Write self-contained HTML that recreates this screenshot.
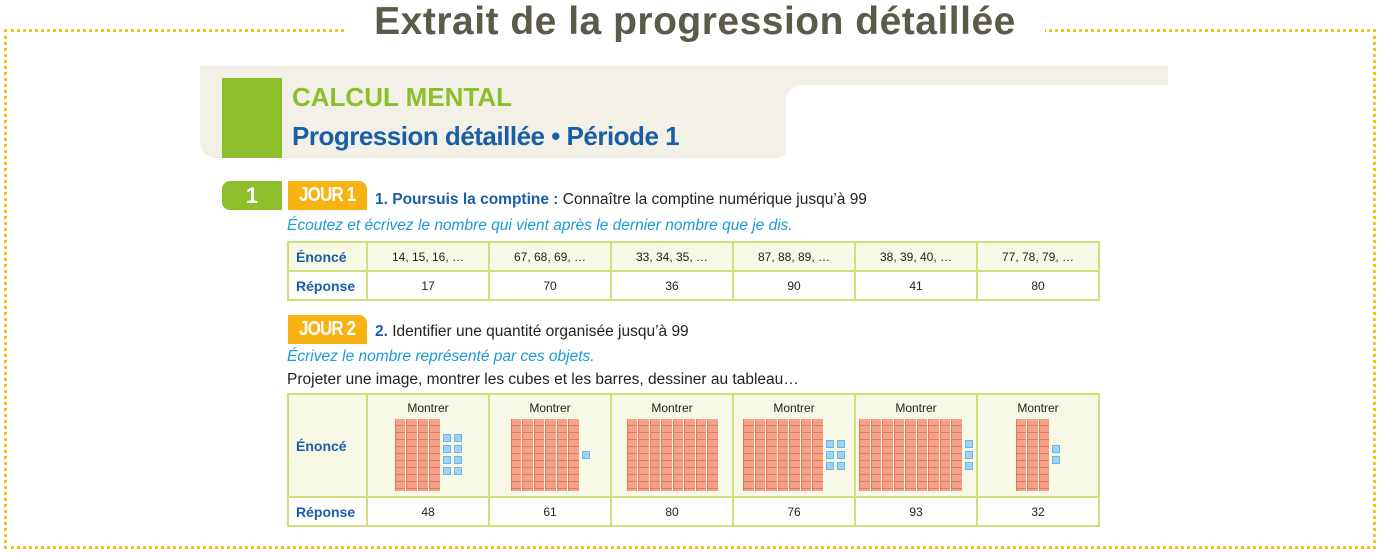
<!DOCTYPE html>
<html><head><meta charset="utf-8"><style>
*{margin:0;padding:0;box-sizing:border-box}
body{width:1380px;height:553px;background:#fff;position:relative;overflow:hidden;font-family:"Liberation Sans",sans-serif}
.frame{position:absolute;left:4px;top:29px;width:1372px;height:520px;border:3px dotted #f5c21b}
.title{position:absolute;left:345px;top:0;width:700px;height:44px;background:#fff;text-align:center;font-size:39px;font-weight:bold;color:#5b5a4b;line-height:44px;letter-spacing:0.5px}
.band{position:absolute;left:200px;top:66px;width:968px;height:19px;background:#f3f1e7}
.band2{position:absolute;left:200px;top:66px;width:600px;height:92px;background:#f3f1e7;border-radius:0 0 26px 16px}
.band3{position:absolute;left:786px;top:85px;width:382px;height:80px;background:#fff;border-radius:16px 0 0 0}
.gsq{position:absolute;left:222px;top:78px;width:60px;height:80px;background:#8dbe2c}
.h1{position:absolute;left:292px;top:82px;font-size:26px;font-weight:bold;color:#8dbe2c}
.h2{position:absolute;left:292px;top:121px;font-size:26px;font-weight:bold;color:#1a5ea6;letter-spacing:-0.5px}
.tab1{position:absolute;left:222px;top:181px;width:60px;height:29px;background:#8dbe2c;border-radius:8px 0 0 8px;color:#fff;font-weight:bold;font-size:22px;text-align:center;line-height:29px}
.jour{position:absolute;left:288px;width:79px;height:29px;background:#f6b312;border-radius:0 8px 0 0;color:#fff;font-weight:bold;font-size:20px;text-align:center;line-height:29px;letter-spacing:-1px}
.jour span{display:inline-block;transform:scaleX(0.85)}
.txt{position:absolute;font-size:15.5px;color:#222}
.txt b{color:#1a5ea6}
.it{position:absolute;font-size:15.5px;color:#1a9ad6;font-style:italic}
table{position:absolute;left:287px;border-collapse:collapse;font-size:12px;color:#222}
td{border:2px solid #cfe07b;text-align:center;width:122px}
td.h{width:79px;text-align:left;padding-left:7px;color:#1a5ea6;font-weight:bold;font-size:14px}
tr.y td{background:#f7f8e6}
.cell{display:flex;justify-content:center;align-items:center;gap:3px;height:72px;margin-top:4px}
.bars{display:flex;gap:1px}
.bar{width:10.5px;height:72px;background:repeating-linear-gradient(180deg,#f3a287 0 6px,#e5765f 6px 7px);border-left:1px solid #e5765f}
.cubes{display:grid;gap:3px}
.c{width:8px;height:8px;background:#9fd3f3;border:1px solid #6cb6e6}
</style></head><body>
<div class="frame"></div>
<div class="title">Extrait de la progression détaillée</div>
<div class="band"></div><div class="band2"></div><div class="band3"></div>
<div class="gsq"></div>
<div class="h1">CALCUL MENTAL</div>
<div class="h2">Progression détaillée • Période 1</div>
<div class="tab1">1</div>
<div class="jour" style="top:181px"><span>JOUR 1</span></div>
<div class="txt" style="left:375px;top:191px"><b>1. Poursuis la comptine :</b> Connaître la comptine numérique jusqu’à 99</div>
<div class="it" style="left:287px;top:217px">Écoutez et écrivez le nombre qui vient après le dernier nombre que je dis.</div>
<table style="top:241px">
<tr class="y" style="height:29px"><td class="h">Énoncé</td><td>14, 15, 16, …</td><td>67, 68, 69, …</td><td>33, 34, 35, …</td><td>87, 88, 89, …</td><td>38, 39, 40, …</td><td>77, 78, 79, …</td></tr>
<tr style="height:29px"><td class="h">Réponse</td><td>17</td><td>70</td><td>36</td><td>90</td><td>41</td><td>80</td></tr>
</table>
<div class="jour" style="top:315px"><span>JOUR 2</span></div>
<div class="txt" style="left:375px;top:323px"><b>2.</b> Identifier une quantité organisée jusqu’à 99</div>
<div class="it" style="left:287px;top:348px">Écrivez le nombre représenté par ces objets.</div>
<div class="txt" style="left:287px;top:371px">Projeter une image, montrer les cubes et les barres, dessiner au tableau…</div>
<table style="top:393px">
<tr class="y" style="height:103px"><td class="h">Énoncé</td>
<td>Montrer<div class="cell"><div class="bars"><div class="bar"></div><div class="bar"></div><div class="bar"></div><div class="bar"></div></div><div class="cubes" style="grid-template-columns:8px 8px"><div class="c"></div><div class="c"></div><div class="c"></div><div class="c"></div><div class="c"></div><div class="c"></div><div class="c"></div><div class="c"></div></div></div></td>
<td>Montrer<div class="cell"><div class="bars"><div class="bar"></div><div class="bar"></div><div class="bar"></div><div class="bar"></div><div class="bar"></div><div class="bar"></div></div><div class="cubes"><div class="c"></div></div></div></td>
<td>Montrer<div class="cell"><div class="bars"><div class="bar"></div><div class="bar"></div><div class="bar"></div><div class="bar"></div><div class="bar"></div><div class="bar"></div><div class="bar"></div><div class="bar"></div></div></div></td>
<td>Montrer<div class="cell"><div class="bars"><div class="bar"></div><div class="bar"></div><div class="bar"></div><div class="bar"></div><div class="bar"></div><div class="bar"></div><div class="bar"></div></div><div class="cubes" style="grid-template-columns:8px 8px"><div class="c"></div><div class="c"></div><div class="c"></div><div class="c"></div><div class="c"></div><div class="c"></div></div></div></td>
<td>Montrer<div class="cell"><div class="bars"><div class="bar"></div><div class="bar"></div><div class="bar"></div><div class="bar"></div><div class="bar"></div><div class="bar"></div><div class="bar"></div><div class="bar"></div><div class="bar"></div></div><div class="cubes"><div class="c"></div><div class="c"></div><div class="c"></div></div></div></td>
<td>Montrer<div class="cell"><div class="bars"><div class="bar"></div><div class="bar"></div><div class="bar"></div></div><div class="cubes"><div class="c"></div><div class="c"></div></div></div></td>
</tr>
<tr style="height:29px"><td class="h">Réponse</td><td>48</td><td>61</td><td>80</td><td>76</td><td>93</td><td>32</td></tr>
</table>
</body></html>
